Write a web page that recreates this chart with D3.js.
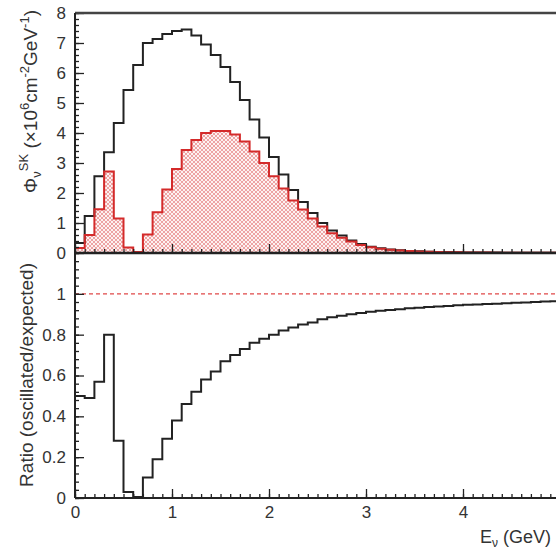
<!DOCTYPE html>
<html>
<head>
<meta charset="utf-8">
<script src="https://cdn.jsdelivr.net/npm/d3@7"></script>
<style>
body { margin: 0; background: #fff; }
svg { display: block; font-family: "Liberation Sans", Arial, sans-serif; }
</style>
</head>
<body>
<svg id="chart"></svg>
<script>
// one value per 0.1 GeV bin, 0 - 5 GeV
var binWidth = 0.1;
var expectedFlux = [0.33, 1.23, 2.56, 3.36, 4.33, 5.43, 6.27, 7.0, 7.13, 7.3,
    7.4, 7.45, 7.25, 6.95, 6.6, 6.2, 5.7, 5.1, 4.45, 3.85,
    3.2, 2.62, 2.1, 1.7, 1.33, 1.0, 0.75, 0.58, 0.42, 0.3,
    0.21, 0.16, 0.12, 0.09, 0.07, 0.055, 0.045, 0.035, 0.03, 0.025,
    0.02, 0.018, 0.015, 0.013, 0.012, 0.01, 0.009, 0.008, 0.007, 0.006];
var oscillatedFlux = [0.17, 0.6, 1.46, 2.72, 1.15, 0.18, 0.03, 0.62, 1.36, 2.12,
    2.8, 3.43, 3.77, 4.0, 4.07, 4.07, 3.95, 3.72, 3.38, 3.0,
    2.56, 2.15, 1.75, 1.45, 1.15, 0.88, 0.66, 0.51, 0.38, 0.27,
    0.19, 0.145, 0.11, 0.083, 0.065, 0.05, 0.042, 0.033, 0.028, 0.023,
    0.019, 0.017, 0.014, 0.012, 0.011, 0.009, 0.008, 0.007, 0.006, 0.005];
var ratioValues = [0.50, 0.49, 0.57, 0.80, 0.28, 0.03, 0.005, 0.10, 0.19, 0.29,
    0.38, 0.46, 0.52, 0.58, 0.62, 0.67, 0.70, 0.73, 0.76, 0.78,
    0.80, 0.82, 0.835, 0.85, 0.86, 0.875, 0.885, 0.893, 0.90, 0.906,
    0.912, 0.917, 0.921, 0.925, 0.929, 0.932, 0.935, 0.938, 0.941, 0.944,
    0.946, 0.948, 0.950, 0.952, 0.954, 0.956, 0.958, 0.960, 0.962, 0.964];
var fluxTicks = [0, 1, 2, 3, 4, 5, 6, 7, 8];
var ratioTicks = [0, 0.2, 0.4, 0.6, 0.8, 1];
var energyTicks = [0, 1, 2, 3, 4, 5];

var w = 556, h = 552;
var left = 75, right = 560;
var top0 = 13, mid = 253, bottom = 498;

var svg = d3.select('#chart').attr('width', w).attr('height', h);

var x = d3.scaleLinear().domain([0, 5]).range([left, right]);
var yTop = d3.scaleLinear().domain([0, 8]).range([mid, top0]);
var yBot = d3.scaleLinear().domain([0, 1.2]).range([bottom, mid]);

//hatch pattern for the oscillated histogram
var defs = svg.append('defs');
var pat = defs.append('pattern').attr('id', 'hatch')
    .attr('patternUnits', 'userSpaceOnUse')
    .attr('width', 4).attr('height', 4);
pat.append('rect').attr('width', 4).attr('height', 4).attr('fill', '#fdf2f2');
pat.append('path').attr('d', 'M0,4L4,0M-1,1L1,-1M3,5L5,3M0,0L4,4M-1,3L1,5M3,-1L5,1')
    .attr('stroke', '#e89090').attr('stroke-width', 0.8);
defs.append('clipPath').attr('id', 'clipTop').append('rect')
    .attr('x', left).attr('y', top0).attr('width', right - left).attr('height', mid - top0);
defs.append('clipPath').attr('id', 'clipBot').append('rect')
    .attr('x', left).attr('y', mid).attr('width', right - left).attr('height', bottom - mid);

function stepPoints(vals) {
    var pts = vals.map(function (v, i) { return [i * binWidth, v]; });
    pts.push([vals.length * binWidth, vals[vals.length - 1]]);
    return pts;
}

var gTop = svg.append('g').attr('clip-path', 'url(#clipTop)');
var gBot = svg.append('g').attr('clip-path', 'url(#clipBot)');

var areaTop = d3.area().curve(d3.curveStepAfter)
    .x(function (d) { return x(d[0]); })
    .y0(yTop(0))
    .y1(function (d) { return yTop(d[1]); });
var lineTop = d3.line().curve(d3.curveStepAfter)
    .x(function (d) { return x(d[0]); })
    .y(function (d) { return yTop(d[1]); });
var lineBot = d3.line().curve(d3.curveStepAfter)
    .x(function (d) { return x(d[0]); })
    .y(function (d) { return yBot(d[1]); });

gTop.append('path').attr('d', areaTop(stepPoints(oscillatedFlux))).attr('fill', 'url(#hatch)');
gTop.append('path').attr('d', lineTop(stepPoints(expectedFlux)))
    .attr('fill', 'none').attr('stroke', '#222').attr('stroke-width', 2);
gTop.append('path').attr('d', lineTop(stepPoints(oscillatedFlux)))
    .attr('fill', 'none').attr('stroke', '#d42a2a').attr('stroke-width', 2);

// ratio = 1 reference line
gBot.append('line')
    .attr('x1', left).attr('x2', right)
    .attr('y1', yBot(1)).attr('y2', yBot(1))
    .attr('stroke', '#e04848').attr('stroke-width', 1.3).attr('stroke-dasharray', '4,3');
gBot.append('path').attr('d', lineBot(stepPoints(ratioValues)))
    .attr('fill', 'none').attr('stroke', '#222').attr('stroke-width', 2);

// axes, ticks drawn inside like ROOT
function styleAxis(g) {
    g.select('.domain').remove();
    g.selectAll('line').attr('stroke', '#222').attr('stroke-width', 1.3);
    g.selectAll('text').attr('font-size', 17).attr('fill', '#333')
        .attr('font-family', '"Liberation Sans", Arial, sans-serif');
}

svg.append('g').attr('transform', 'translate(' + left + ',0)')
    .call(d3.axisLeft(yTop).tickValues(d3.range(0, 8.001, 0.2)).tickSize(-4).tickFormat(''))
    .call(styleAxis);
svg.append('g').attr('transform', 'translate(' + left + ',0)')
    .call(d3.axisLeft(yTop).tickValues(fluxTicks).tickSize(-9).tickPadding(9).tickFormat(d3.format('d')))
    .call(styleAxis);

svg.append('g').attr('transform', 'translate(' + left + ',0)')
    .call(d3.axisLeft(yBot).tickValues(d3.range(0, 1.2001, 0.04)).tickSize(-4).tickFormat(''))
    .call(styleAxis);
svg.append('g').attr('transform', 'translate(' + left + ',0)')
    .call(d3.axisLeft(yBot).tickValues(ratioTicks).tickSize(-9).tickPadding(9).tickFormat(function (d) { return d3.format('')(+d.toFixed(1)); }))
    .call(styleAxis);

[mid, bottom].forEach(function (yy, k) {
    svg.append('g').attr('transform', 'translate(0,' + yy + ')')
        .call(d3.axisBottom(x).tickValues(d3.range(0, 5.001, 0.1)).tickSize(-4).tickFormat(''))
        .call(styleAxis);
    svg.append('g').attr('transform', 'translate(0,' + yy + ')')
        .call(d3.axisBottom(x).tickValues(energyTicks).tickSize(-9).tickPadding(8)
            .tickFormat(k ? d3.format('d') : ''))
        .call(styleAxis);
});

// frame
var frame = svg.append('g').attr('fill', 'none').attr('stroke', '#222').attr('stroke-width', 2);
frame.append('line').attr('x1', left).attr('x2', right + 2).attr('y1', top0).attr('y2', top0).attr('stroke', '#444').attr('stroke-width', 2.5);
frame.append('line').attr('x1', left).attr('x2', left).attr('y1', top0).attr('y2', bottom);
frame.append('line').attr('x1', left).attr('x2', right).attr('y1', mid).attr('y2', mid).attr('stroke-width', 2.5);
frame.append('line').attr('x1', left).attr('x2', right).attr('y1', bottom).attr('y2', bottom);
frame.append('line').attr('x1', right).attr('x2', right).attr('y1', top0).attr('y2', bottom);

// titles
var tTop = svg.append('text')
    .attr('transform', 'translate(37,10) rotate(-90)')
    .attr('text-anchor', 'end').attr('font-size', 19).attr('fill', '#333');
tTop.append('tspan').text('\u03A6');
tTop.append('tspan').attr('font-size', 13).attr('dy', 4).text('\u03BD');
tTop.append('tspan').attr('font-size', 13).attr('dy', -13).text('SK');
tTop.append('tspan').attr('dy', 9).text(' (\u00D710');
tTop.append('tspan').attr('font-size', 13).attr('dy', -8).text('6');
tTop.append('tspan').attr('dy', 8).text('cm');
tTop.append('tspan').attr('font-size', 13).attr('dy', -8).text('-2');
tTop.append('tspan').attr('dy', 8).text('GeV');
tTop.append('tspan').attr('font-size', 13).attr('dy', -8).text('-1');
tTop.append('tspan').attr('dy', 8).text(')');

svg.append('text')
    .attr('transform', 'translate(33,263) rotate(-90)')
    .attr('text-anchor', 'end').attr('font-size', 19).attr('fill', '#333')
    .text('Ratio (oscillated/expected)');

var tX = svg.append('text').attr('x', 480).attr('y', 543)
    .attr('font-size', 18).attr('fill', '#333');
tX.append('tspan').text('E');
tX.append('tspan').attr('font-size', 12).attr('dy', 4).text('\u03BD');
tX.append('tspan').attr('dy', -4).text(' (GeV)');
</script>
</body>
</html>
